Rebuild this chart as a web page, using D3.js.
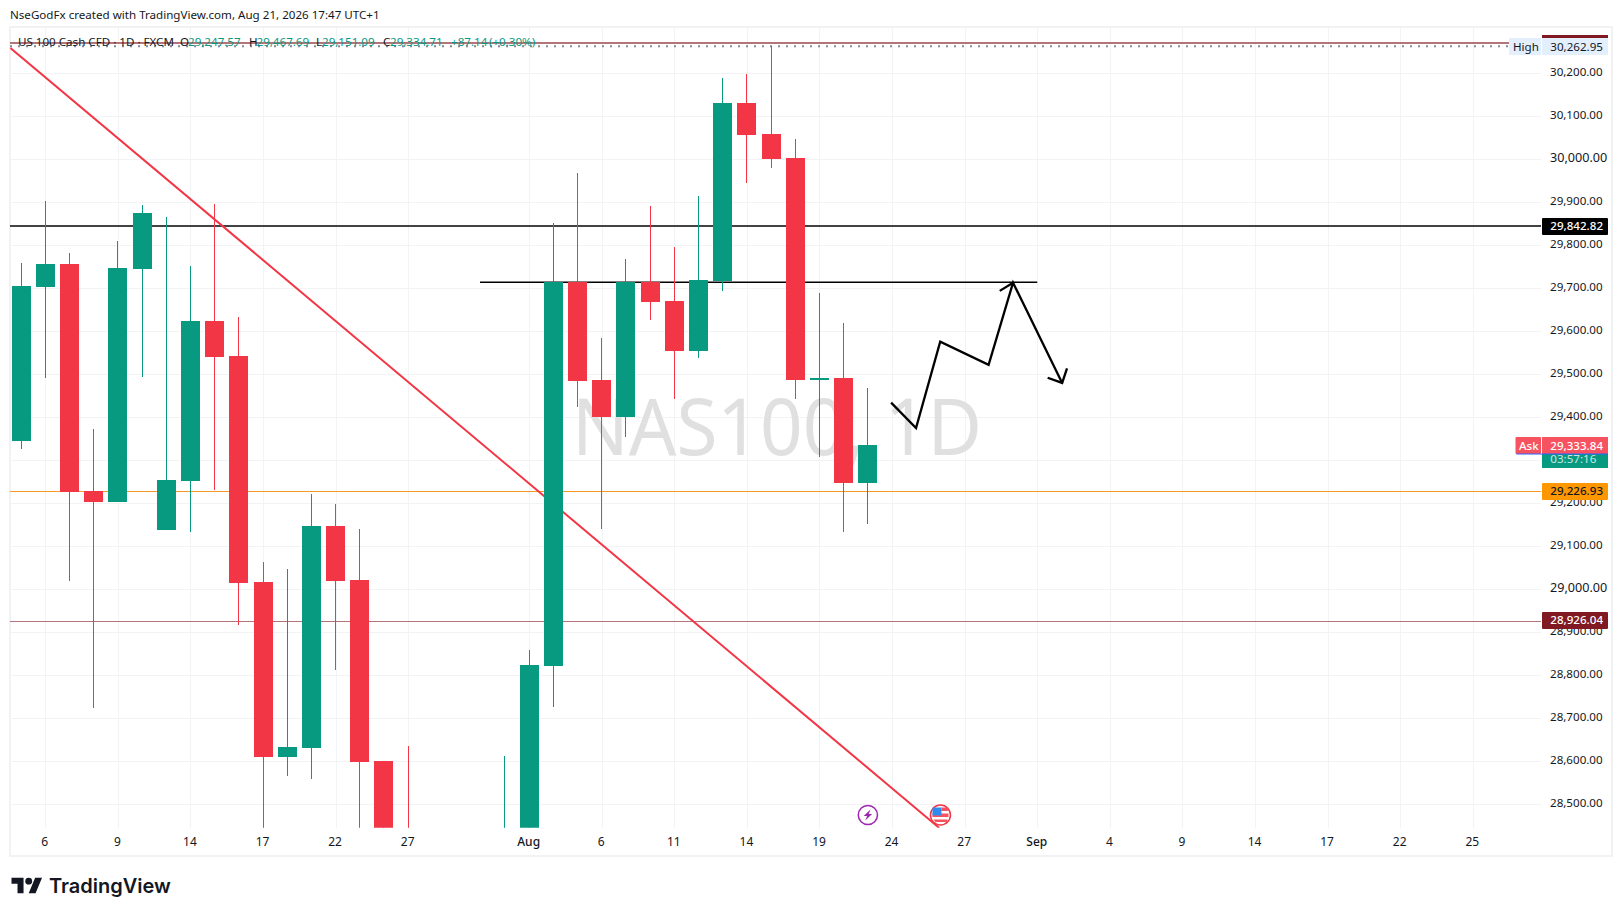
<!DOCTYPE html>
<html>
<head>
<meta charset="utf-8">
<title>NAS100 1D</title>
<script src="https://cdn.jsdelivr.net/npm/d3@7"></script>
<style>
  html, body { margin: 0; padding: 0; background: #fff; }
  svg { display: block; }
  text { font-family: "Noto Sans", sans-serif; fill: #131722; }
</style>
</head>
<body>
<svg id="chart" width="1623" height="916"></svg>
<script>
// Daily candles, Jul 3 to Aug 21 (trading days). Bars 15-21 run below the pane, so their
// lower values are only estimates.
var barDates = ["Jul 3", "Jul 6", "Jul 7", "Jul 8", "Jul 9", "Jul 10", "Jul 13", "Jul 14", "Jul 15", "Jul 16",
                "Jul 17", "Jul 20", "Jul 21", "Jul 22", "Jul 23", "Jul 24", "Jul 27", "Jul 28", "Jul 29", "Jul 30",
                "Jul 31", "Aug 3", "Aug 4", "Aug 5", "Aug 6", "Aug 7", "Aug 10", "Aug 11", "Aug 12", "Aug 13",
                "Aug 14", "Aug 17", "Aug 18", "Aug 19", "Aug 20", "Aug 21"];
var opens  = [29345, 29703, 29757, 29229, 29203, 29745, 29138, 29252, 29624, 29543,
              29017, 28610, 28631, 29147, 29022, 28601, 28430, 28360, 28300, 28270,
              28350, 28430, 28822, 29715, 29487, 29401, 29715, 29670, 29554, 29717,
              30131, 30059, 30003, 29487, 29491, 29247.57];
var highs  = [29759, 29903, 29782, 29373, 29810, 29894, 29866, 29752, 29896, 29633,
              29063, 29047, 29222, 29198, 29140, 28601, 28636, 28410, 28380, 28400,
              28612, 28859, 29852, 29968, 29584, 29768, 29891, 29796, 29915, 30189,
              30198, 30262.95, 30047, 29689, 29619, 29467.69];
var lows   = [29326, 29491, 29020, 28724, 29203, 29494, 29138, 29133, 29231, 28917,
              28420, 28566, 28559, 28812, 28400, 28380, 28300, 28250, 28220, 28230,
              28300, 28380, 28726, 29424, 29140, 29354, 29626, 29443, 29538, 29694,
              29945, 29980, 29443, 29308, 29133, 29151.09];
var closes = [29705, 29757, 29227, 29203, 29747, 29875, 29254, 29624, 29540, 29015,
              28610, 28633, 29147, 29020, 28598, 28390, 28360, 28300, 28270, 28350,
              28430, 28824, 29715, 29484, 29401, 29715, 29668, 29554, 29719, 30131,
              30056, 30001, 29487, 29491, 29247, 29334.71];

// Axis ticks (bar positions carry on past the last candle into the future dates)
var timeTicks  = [1, 4, 7, 10, 13, 16, 21, 24, 27, 30, 33, 36, 39, 42, 45, 48, 51, 54, 57, 60];
var timeLabels = ["6", "9", "14", "17", "22", "27", "Aug", "6", "11", "14", "19", "24", "27", "Sep", "4", "9", "14", "17", "22", "25"];
var priceTicks = [30200, 30100, 30000, 29900, 29800, 29700, 29600, 29500, 29400, 29300, 29200, 29100, 29000, 28900, 28800, 28700, 28600, 28500];

// Levels and drawings, in [bar, price]
var highValue = 30262.95;
var topLevel = 30270;
var blackLevel = 29842.82;
var orangeLevel = 29226.93;
var redLevel = 28926.04;
var askValue = 29333.84;
var shortLine = [[18.97, 29714], [42, 29714]];
var trendLine = [[-0.44, 30259], [37.95, 28445]];
var zigzag = [[35.96, 29434], [36.99, 29375], [37.99, 29576], [39.99, 29522], [41, 29713], [43.03, 29480]];
var midHead = [[40.45, 29694], [41, 29713]];
var endHead = [[42.43, 29492], [43.03, 29480], [43.23, 29514]];
var eventBars = [35, 38];

var GREEN = "#089981", RED = "#f23645", DARKRED = "#801922", GRID = "#f2f3f4";
var paneLeft = 10, paneRight = 1541, paneTop = 27, paneBottom = 827.7;

var x = d3.scaleLinear().domain([0, 35]).range([21.05, 867.88]);
var y = d3.scaleLinear().domain([28500, 30200]).range([804.3, 73.3]);
var fmt = d3.format(",.2f");
var line = d3.line().x(function(d){ return x(d[0]); }).y(function(d){ return y(d[1]); });

var svg = d3.select("#chart");

svg.append("defs").append("clipPath").attr("id", "pane").append("rect")
   .attr("x", paneLeft).attr("y", paneTop)
   .attr("width", paneRight - paneLeft).attr("height", paneBottom - paneTop);

// Outer frame
svg.append("rect").attr("x", 10).attr("y", 27).attr("width", 1602).attr("height", 829)
   .attr("fill", "none").attr("stroke", "#f1f2f3").attr("stroke-width", 2);

svg.append("text").attr("x", 10).attr("y", 19.2).attr("font-size", 11.6)
   .text("NseGodFx created with TradingView.com, Aug 21, 2026 17:47 UTC+1");

// Axes, with the tick lines doubling as the grid
var timeAxis = d3.axisBottom(x).tickValues(timeTicks)
    .tickFormat(function(d, i){ return timeLabels[i]; })
    .tickSize(-(paneBottom - paneTop)).tickPadding(10);
var priceAxis = d3.axisRight(y).tickValues(priceTicks)
    .tickFormat(fmt).tickSize(-(paneRight - paneLeft)).tickPadding(9);

var gx = svg.append("g").attr("transform", "translate(0," + paneBottom + ")").call(timeAxis);
var gy = svg.append("g").attr("transform", "translate(" + paneRight + ",0)").call(priceAxis);
gx.select(".domain").remove();
gy.select(".domain").remove();
svg.selectAll(".tick line").attr("stroke", GRID).attr("shape-rendering", "crispEdges");
gx.selectAll("text").attr("font-size", 12).attr("font-family", '"Noto Sans", sans-serif').attr("fill", "#131722")
  .attr("dx", -1)
  .attr("font-weight", function(d, i){ return isNaN(+timeLabels[i]) ? 500 : 400; });
gy.selectAll("text").attr("font-family", '"Noto Sans", sans-serif').attr("fill", "#131722")
  .attr("dy", "0.2em")
  .attr("font-size", function(d){ return d % 1000 === 0 ? 12.6 : 11.6; });

// Watermark, squeezed a little to the width it has in the picture
svg.append("text").attr("transform", "translate(777,455) scale(0.945,1)").attr("text-anchor", "middle")
   .attr("font-size", 79).style("fill", "#e0e0e0").text("NAS100, 1D");

var pane = svg.append("g").attr("clip-path", "url(#pane)");

function hLine(price, color, width){
    // levels sit on the pixel row above the exact value
    var ly = Math.floor(y(price));
    pane.append("line").attr("x1", paneLeft).attr("x2", paneRight)
        .attr("y1", ly).attr("y2", ly)
        .attr("stroke", color).attr("stroke-width", width)
        .attr("shape-rendering", "crispEdges");
}

hLine(topLevel, "#b3757a", 2);
hLine(blackLevel, "#434343", 2);
hLine(orangeLevel, "#f39a27", 1);
hLine(redLevel, "#b3757a", 1);

pane.append("line").attr("x1", paneLeft).attr("x2", 1509)
    .attr("y1", y(highValue)).attr("y2", y(highValue))
    .attr("stroke", "#868993").attr("stroke-width", 2).attr("stroke-dasharray", "2,6");

pane.append("path").attr("d", line(shortLine)).attr("fill", "none")
    .attr("stroke", "#000").attr("stroke-width", 1.5);
pane.append("path").attr("d", line(trendLine)).attr("fill", "none")
    .attr("stroke", RED).attr("stroke-width", 2);

// Candles
var candles = pane.selectAll("g.candle").data(barDates).enter().append("g")
    .attr("class", "candle")
    .attr("shape-rendering", "crispEdges")
    .attr("fill", function(d, i){ return closes[i] >= opens[i] ? GREEN : RED; });

candles.append("rect")
    .attr("x", function(d, i){ return Math.floor(x(i)); })
    .attr("width", 1)
    .attr("y", function(d, i){ return y(highs[i]); })
    .attr("height", function(d, i){ return y(lows[i]) - y(highs[i]); });

candles.append("rect")
    .attr("x", function(d, i){ return Math.floor(x(i)) - 9; })
    .attr("width", 19)
    .attr("y", function(d, i){ return y(Math.max(opens[i], closes[i])); })
    .attr("height", function(d, i){ return Math.max(1, Math.abs(y(opens[i]) - y(closes[i]))); });

// Hand drawn path with arrow heads
[zigzag, midHead, endHead].forEach(function(pts){
    svg.append("path").attr("d", line(pts)).attr("fill", "none")
       .attr("stroke", "#000").attr("stroke-width", 2.3)
       .attr("stroke-linejoin", "miter");
});

// Event markers on the last rows of the pane
var eventY = 815;
var bolt = svg.append("g").attr("transform", "translate(" + x(eventBars[0]) + "," + eventY + ")");
bolt.append("circle").attr("r", 9.6).attr("fill", "#fff").attr("stroke", "#9c27b0").attr("stroke-width", 1.5);
bolt.append("path").attr("d", "M2.6,-5.4 L-4.2,1 L-0.8,1 L-2.6,5.4 L4.2,-1 L0.8,-1 Z").attr("fill", "#9c27b0");

var flag = svg.append("g").attr("transform", "translate(" + x(eventBars[1]) + "," + eventY + ")");
flag.append("circle").attr("r", 10).attr("fill", "#fff").attr("stroke", RED).attr("stroke-width", 1.5);
flag.append("path").attr("d", "M-8,-1.5 H8 V2 H-8 Z M-7,4.5 H7 V7 H-5 Z").attr("fill", "#f7525f");
flag.append("path").attr("d", "M1,-7.5 H6.5 L8,-4 H1 Z").attr("fill", "#f7525f");
flag.append("rect").attr("x", -8).attr("y", -7.5).attr("width", 9).attr("height", 8).attr("fill", "#2e8bf0");

// Price axis labels
function priceLabel(price, color, textColor){
    var cy = y(price);
    svg.append("rect").attr("x", 1542).attr("y", Math.round(cy) - 9).attr("width", 66).attr("height", 17)
       .attr("rx", 1).attr("fill", color);
    svg.append("text").attr("x", 1550.3).attr("y", cy + 2.8).attr("font-size", 11.6)
       .attr("font-weight", 500).style("fill", textColor).text(fmt(price));
}

svg.append("rect").attr("x", 1542).attr("y", 35).attr("width", 66).attr("height", 4).attr("fill", DARKRED);
svg.append("rect").attr("x", 1509).attr("y", 38).attr("width", 32).attr("height", 17).attr("fill", "#e3effd");
svg.append("rect").attr("x", 1542).attr("y", 38).attr("width", 66).attr("height", 17).attr("fill", "#e3effd");
svg.append("text").attr("x", 1513).attr("y", 50.5).attr("font-size", 11.6).text("High");
svg.append("text").attr("x", 1550.3).attr("y", 50.5).attr("font-size", 11.6).text(fmt(highValue));

priceLabel(blackLevel, "#000", "#fff");
priceLabel(orangeLevel, "#ff9800", "#131722");
priceLabel(redLevel, DARKRED, "#fff");

// Countdown sits under the ask price box
svg.append("rect").attr("x", 1542).attr("y", 453).attr("width", 66).attr("height", 15).attr("fill", GREEN);
svg.append("text").attr("x", 1550.3).attr("y", 463).attr("font-size", 11.6).style("fill", "#c5e8e1").text("03:57:16");
svg.append("rect").attr("x", 1542).attr("y", 437).attr("width", 66).attr("height", 17).attr("fill", "#f7525f");
svg.append("rect").attr("x", 1515.5).attr("y", 437).attr("width", 25.5).attr("height", 17).attr("rx", 1).attr("fill", "#f7525f");
svg.append("rect").attr("x", 1516.5).attr("y", 453.5).attr("width", 91.5).attr("height", 1).attr("fill", "#2962ff");
svg.append("text").attr("x", 1519).attr("y", 450).attr("font-size", 11.6).attr("font-weight", 500).style("fill", "#fff").text("Ask");
svg.append("text").attr("x", 1550.3).attr("y", 449.5).attr("font-size", 11.6).attr("font-weight", 500).style("fill", "#fff").text(fmt(askValue));

// Legend row
var legendParts = [
    [18, "US 100 Cash CFD · 1D · FXCM", "#131722"],
    [180, "O", "#131722"], [188, "29,247.57", GREEN],
    [249, "H", "#131722"], [256.5, "29,467.69", GREEN],
    [316, "L", "#131722"], [322, "29,151.09", GREEN],
    [383, "C", "#131722"], [390, "29,334.71", GREEN],
    [451, "+87.14", GREEN], [489, "(+0.30%)", GREEN]
];
legendParts.forEach(function(p){
    svg.append("text").attr("x", p[0]).attr("y", 46).attr("font-size", 11.6).style("fill", p[2]).text(p[1]);
});

// Logo
var logo = svg.append("g").attr("transform", "translate(11.5,874.3) scale(0.86)").attr("fill", "#131722");
logo.append("path").attr("d", "M14 22H7V11H0V4h14v18zM28 22h-8l7.5-18h8L28 22z");
logo.append("circle").attr("cx", 20).attr("cy", 8).attr("r", 4);
svg.append("text").attr("x", 49).attr("y", 893).attr("font-size", 20)
   .attr("font-weight", 600).style("font-family", "Inter, sans-serif").text("TradingView");
</script>
</body>
</html>
